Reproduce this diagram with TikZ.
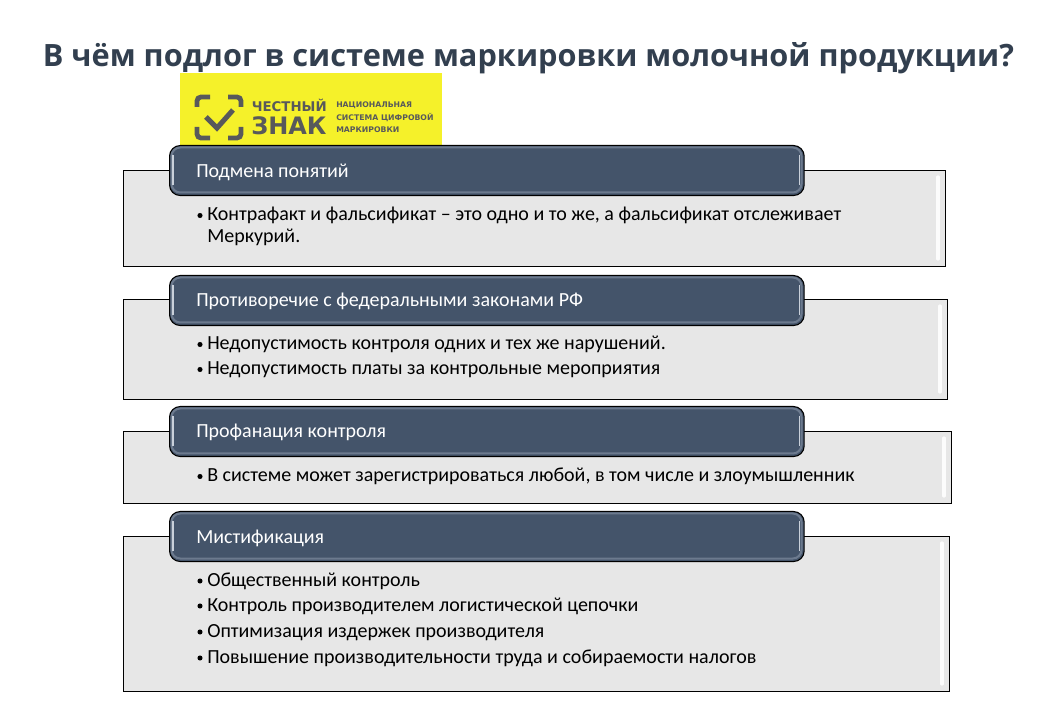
\documentclass[tikz,border=0pt]{standalone}
\usepackage{fontspec}
\setmainfont{Carlito}
\newfontfamily\titlefont{Open Sans}
\newfontfamily\logofont{DejaVu Sans}
\usetikzlibrary{calc}
\definecolor{hdr}{HTML}{44546A}
\definecolor{hdrlight}{HTML}{6C7A8E}
\definecolor{hdrpale}{HTML}{C9D0DA}
\definecolor{bodyfill}{HTML}{E7E7E7}
\definecolor{titlecol}{HTML}{323F4F}
\definecolor{logoyel}{HTML}{F5F12A}
\definecolor{logogray}{HTML}{58595B}
\tikzset{
  x=0.75pt,y=-0.75pt,
  bodybox/.style={draw=black,line width=1pt,fill=bodyfill,rectangle,anchor=north west,inner sep=0pt},
  headbox/.style={draw=black,line width=0.8pt,fill=hdr,rectangle,rounded corners=8pt,anchor=north west,inner sep=0pt},
  headtxt/.style={anchor=base west,inner sep=0pt,text=white,font=\fontsize{15pt}{18pt}\selectfont},
  itemtxt/.style={anchor=base west,inner sep=0pt,text=black,font=\fontsize{15pt}{18pt}\selectfont},
  bulletdot/.style={circle,fill=black,inner sep=0pt,minimum size=3.8pt},
  logobig/.style={anchor=west,inner sep=0pt,text=logogray},
  gloss/.style={white,line cap=round,opacity=.9},
  bracket/.style={draw=logogray,line width=3.6pt,rounded corners=3pt}
}
% name, y-top, y-bottom, x-right, header y-top
\newcommand{\panel}[5]{%
  \node[bodybox,minimum width={(#4-123)*0.75pt},minimum height={(#3-#2)*0.75pt}] (#1) at (123,#2) {};
  \draw[gloss,line width=2.4pt] (#4-7,#2+7) -- (#4-7,#3-7);
  \node[headbox,minimum width=476pt,minimum height=37.5pt] (#1h) at (169,#5) {};
  \draw[hdrlight,line width=1.5pt,rounded corners=6.5pt] (171.5,#5+2.5) rectangle (801.5,#5+47.5);
  \draw[hdrpale,line width=1.3pt] (173,#5+10) -- (173,#5+40);
  \draw[hdrpale,line width=1.3pt] (799.5,#5+10) -- (799.5,#5+40);
}
\newcommand{\hd}[3]{\node[headtxt] (#1) at (196,#2) {#3};}
\newcommand{\itm}[3]{%
  \node[bulletdot] (#1d) at (200,#2-5.5) {};
  \node[itemtxt] (#1) at (207,#2) {#3};}
\begin{document}
\begin{tikzpicture}
\useasboundingbox (0,0) rectangle (1040,720);
\fill[white] (0,0) rectangle (1040,720);
\node[anchor=base,inner sep=0pt,text=titlecol,font=\titlefont\bfseries\fontsize{23.05pt}{28pt}\selectfont] (title) at (528.5,67) {В чём подлог в системе маркировки молочной продукции?};
% logo
\node[fill=logoyel,rectangle,inner sep=0pt,minimum width=196.5pt,minimum height=54pt,anchor=north west] (logo) at (180,73) {};
\draw[bracket] (197,107) -- (197,97) -- (210,97);
\draw[bracket] (228,97) -- (241,97) -- (241,107);
\draw[bracket] (197,127) -- (197,138) -- (210,138);
\draw[bracket] (228,138) -- (241,138) -- (241,127);
\draw[logogray,line width=3.8pt] (206,117) -- (217,128) -- (233,110);
\node[logobig,font=\logofont\bfseries\fontsize{10pt}{12pt}\selectfont] (lg1) at (251.5,105.5) {ЧЕСТНЫЙ};
\node[logobig,font=\logofont\bfseries\fontsize{18pt}{20pt}\selectfont] (lg2) at (251,125.5) {ЗНАК};
\node[logobig,font=\logofont\bfseries\fontsize{5.8pt}{7pt}\selectfont] (lg3) at (336,105) {НАЦИОНАЛЬНАЯ};
\node[logobig,font=\logofont\bfseries\fontsize{5.8pt}{7pt}\selectfont] (lg4) at (336,117.5) {СИСТЕМА ЦИФРОВОЙ};
\node[logobig,font=\logofont\bfseries\fontsize{5.8pt}{7pt}\selectfont] (lg5) at (336,130) {МАРКИРОВКИ};
% panels
\panel{pa}{170}{266}{945}{145}
\panel{pb}{299}{399}{947}{275}
\panel{pc}{431}{503}{951}{406}
\panel{pd}{536}{691}{949}{511}
\hd{ha}{178}{Подмена понятий}
\hd{hb}{307}{Противоречие с федеральными законами РФ}
\hd{hc}{438}{Профанация контроля}
\hd{hd}{543}{Мистификация}
\itm{ia}{221}{Контрафакт и фальсификат – это одно и то же, а фальсификат отслеживает}
\node[itemtxt] (ia2) at (207,243) {Меркурий.};
\itm{ib}{350}{Недопустимость контроля одних и тех же нарушений.}
\itm{ic}{375}{Недопустимость платы за контрольные мероприятия}
\itm{id}{482}{В системе может зарегистрироваться любой, в том числе и злоумышленник}
\itm{ie}{586.5}{Общественный контроль}
\itm{if}{611.5}{Контроль производителем логистической цепочки}
\itm{ig}{637.5}{Оптимизация издержек производителя}
\itm{ih}{663.5}{Повышение производительности труда и собираемости налогов}
\end{tikzpicture}
\end{document}
